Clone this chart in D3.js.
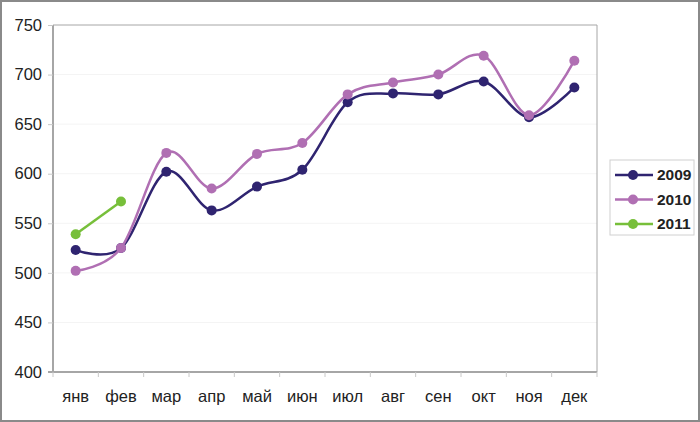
<!DOCTYPE html>
<html>
<head>
<meta charset="utf-8">
<script src="https://cdn.jsdelivr.net/npm/d3@7"></script>
<style>
  body { margin: 0; background: #fff; }
  svg { display: block; font-family: 'Liberation Sans', Arial, sans-serif; }
</style>
</head>
<body>
<svg id="canvas"></svg>
<script>
// Data
var months = ['янв', 'фев', 'мар', 'апр', 'май', 'июн', 'июл', 'авг', 'сен', 'окт', 'ноя', 'дек'];
var values2009 = [523, 525, 602, 563, 587, 604, 672, 681, 680, 693, 657, 687];
var values2010 = [502, 525, 621, 585, 620, 631, 680, 692, 700, 719, 659, 714];
var values2011 = [539, 572];
var yTicks = [400, 450, 500, 550, 600, 650, 700, 750];

var seriesList = [
  { name: '2009', values: values2009, color: '#2f2470' },
  { name: '2010', values: values2010, color: '#b06fb3' },
  { name: '2011', values: values2011, color: '#77bf3a' }
];

// Canvas size
var canvasWidth = 700;
var canvasHeight = 422;

var plot = { left: 53, top: 25, right: 597, bottom: 372 };

var svg = d3.select('#canvas')
  .attr('width', canvasWidth)
  .attr('height', canvasHeight);

// Outer frame
svg.append('rect')
  .attr('x', 1)
  .attr('y', 1)
  .attr('width', canvasWidth - 2)
  .attr('height', canvasHeight - 2)
  .attr('fill', '#fff')
  .attr('stroke', '#8a8a8a')
  .attr('stroke-width', 2);

// Scales
var xScale = d3.scaleBand()
  .domain(months)
  .range([plot.left, plot.right]);

var yScale = d3.scaleLinear()
  .domain([400, 750])
  .range([plot.bottom, plot.top]);

// Gridlines
svg.append('g')
  .selectAll('line')
  .data(yTicks.slice(1, -1))
  .enter()
  .append('line')
  .attr('x1', plot.left)
  .attr('x2', plot.right)
  .attr('y1', function(d) { return yScale(d); })
  .attr('y2', function(d) { return yScale(d); })
  .attr('stroke', '#f4f4f4')
  .attr('stroke-width', 1);

// Plot frame (top and right)
svg.append('path')
  .attr('d', 'M' + plot.left + ',' + plot.top + 'H' + plot.right + 'V' + plot.bottom)
  .attr('fill', 'none')
  .attr('stroke', '#a6a6a6')
  .attr('stroke-width', 1);

// Axes
var yAxis = d3.axisLeft(yScale)
  .tickValues(yTicks)
  .tickSize(5)
  .tickPadding(6);

var yAxisG = svg.append('g')
  .attr('class', 'y-axis')
  .attr('transform', 'translate(' + plot.left + ',0)')
  .call(yAxis);

yAxisG.select('.domain')
  .attr('stroke', '#a6a6a6')
  .attr('stroke-width', 2)
  .attr('d', 'M0,' + plot.top + 'V' + plot.bottom);
yAxisG.selectAll('.tick line').attr('stroke', '#c8c8c8');
yAxisG.selectAll('.tick text')
  .attr('fill', '#222')
  .style('font-size', '16.5px');

var xAxis = d3.axisBottom(xScale)
  .tickSize(0)
  .tickPadding(18);

var xAxisG = svg.append('g')
  .attr('class', 'x-axis')
  .attr('transform', 'translate(0,' + plot.bottom + ')')
  .call(xAxis);

xAxisG.select('.domain')
  .attr('stroke', '#a6a6a6')
  .attr('stroke-width', 2)
  .attr('d', 'M' + (plot.left - 5) + ',0H' + plot.right);
xAxisG.selectAll('.tick text')
  .attr('fill', '#222')
  .style('font-size', '16.5px');

// Category boundary ticks
xAxisG.selectAll('.bound')
  .data(months.concat(['']))
  .enter()
  .append('line')
  .attr('class', 'bound')
  .attr('x1', function(d, i) { return plot.left + i * xScale.step(); })
  .attr('x2', function(d, i) { return plot.left + i * xScale.step(); })
  .attr('y1', 0)
  .attr('y2', 5)
  .attr('stroke', '#c8c8c8');

// Lines
var line = d3.line()
  .x(function(d, i) { return xScale(months[i]) + xScale.bandwidth() / 2; })
  .y(function(d) { return yScale(d); })
  .curve(d3.curveCardinal.tension(0));

seriesList.forEach(function(s) {
  var g = svg.append('g').attr('class', 'series');

  g.append('path')
    .datum(s.values)
    .attr('d', line)
    .attr('fill', 'none')
    .attr('stroke', s.color)
    .attr('stroke-width', 2.5);

  g.selectAll('circle')
    .data(s.values)
    .enter()
    .append('circle')
    .attr('cx', function(d, i) { return xScale(months[i]) + xScale.bandwidth() / 2; })
    .attr('cy', function(d) { return yScale(d); })
    .attr('r', 5)
    .attr('fill', s.color);
});

// Legend
var legend = svg.append('g')
  .attr('transform', 'translate(610,160)');

legend.append('rect')
  .attr('width', 84)
  .attr('height', 75)
  .attr('fill', '#fff')
  .attr('stroke', '#d0d0d0');

var items = legend.selectAll('.item')
  .data(seriesList)
  .enter()
  .append('g')
  .attr('class', 'item')
  .attr('transform', function(d, i) { return 'translate(0,' + (15 + i * 24.5) + ')'; });

items.append('line')
  .attr('x1', 5)
  .attr('x2', 43)
  .attr('stroke', function(d) { return d.color; })
  .attr('stroke-width', 2.5);

items.append('circle')
  .attr('cx', 23)
  .attr('r', 5)
  .attr('fill', function(d) { return d.color; });

items.append('text')
  .attr('x', 47)
  .attr('dy', '0.35em')
  .attr('fill', '#222')
  .style('font-size', '15.5px')
  .style('font-weight', 'bold')
  .text(function(d) { return d.name; });
</script>
</body>
</html>
